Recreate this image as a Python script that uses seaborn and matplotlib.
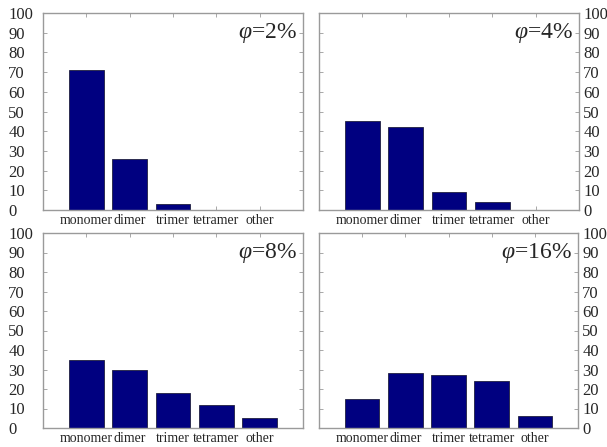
import numpy as np
import pandas as pd
import seaborn as sns
import matplotlib
matplotlib.use('Agg')
import matplotlib.pyplot as plt

# donnees
categories = ['monomer', 'dimer', 'trimer', 'tetramer', 'other']
phi_labels = ['2%', '4%', '8%', '16%']
vals_2 = [71, 26, 3, 0, 0]
vals_4 = [45, 42, 9, 4, 0]
vals_8 = [35, 30, 18, 12, 5]
vals_16 = [15, 28, 27, 24, 6]
all_vals = [vals_2, vals_4, vals_8, vals_16]
yticks = list(range(0, 101, 10))

sns.set_style('white')
plt.rcParams['font.family'] = ['Liberation Serif', 'DejaVu Serif']
plt.rcParams['mathtext.fontset'] = 'custom'
plt.rcParams['mathtext.it'] = 'Liberation Serif:italic'
plt.rcParams['mathtext.rm'] = 'Liberation Serif'

fig = plt.figure(figsize=(6.07, 4.47), dpi=100)

# positions des axes (pixels)
W, H = 607, 447
boxes = [(43, 303, 13, 210), (319, 579, 13, 210),
         (43, 303, 233, 428), (319, 578, 233, 428)]

for i, (vals, lab) in enumerate(zip(all_vals, phi_labels)):
    x0, x1, y0, y1 = boxes[i]
    ax = fig.add_axes([x0 / W, 1 - y1 / H, (x1 - x0) / W, (y1 - y0) / H])
    df = pd.DataFrame({'cat': categories, 'val': vals})
    sns.barplot(data=df, x='cat', y='val', color='#000080', saturation=1,
                width=0.8, edgecolor='#202040', linewidth=0.6, ax=ax)
    ax.set_xlim(-1, 5)
    ax.set_ylim(0, 100)
    ax.set_yticks(yticks)
    ax.set_xlabel('')
    ax.set_ylabel('')
    for s in ax.spines.values():
        s.set_color('#9a9a9a')
        s.set_linewidth(1.0)
    ax.tick_params(axis='both', direction='in', length=3, width=0.6,
                   color='#9a9a9a', top=True, bottom=True, left=True, right=True)
    ax.tick_params(axis='x', labelsize=10, pad=3)
    if i % 2 == 1:
        ax.tick_params(axis='y', labelleft=False, labelright=True,
                       labelsize=12, pad=3)
    else:
        ax.tick_params(axis='y', labelsize=12, pad=25)
        for t in ax.get_yticklabels():
            t.set_horizontalalignment('left')
    ax.text(0.975, 0.96, r'$\varphi$=' + lab, transform=ax.transAxes,
            ha='right', va='top', fontsize=17)

fig.savefig('out.png', dpi=100)
